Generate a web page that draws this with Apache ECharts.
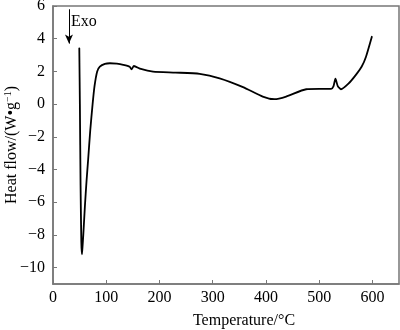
<!DOCTYPE html>
<html>
<head>
<meta charset="utf-8">
<script src="https://cdn.jsdelivr.net/npm/echarts@6/dist/echarts.min.js"></script>
<style>html,body{margin:0;padding:0;background:#fff}#c{width:400px;height:330px}</style>
</head>
<body>
<div id="c"></div>
<script>
const temperature = [49.4, 50.5, 51.8, 53.2, 54.4, 55.5, 56.9, 60, 63, 66, 70, 74.4, 78, 83, 88, 97.5, 107, 120, 132, 144, 147.5, 152, 165, 188, 230, 275.6, 313, 357, 394, 416, 438, 475.6, 500, 522.5, 527, 530.6, 535, 541, 555, 569, 580, 588, 599];
const heatFlow = [3.41, 0.0, -5.0, -8.4, -9.19, -8.7, -8.0, -6.2, -4.7, -3.4, -1.6, 0.0, 1.1, 2.0, 2.29, 2.46, 2.5, 2.47, 2.4, 2.29, 2.13, 2.33, 2.15, 1.99, 1.93, 1.85, 1.58, 1.04, 0.46, 0.30, 0.46, 0.91, 0.93, 0.93, 1.1, 1.56, 1.1, 0.91, 1.25, 1.79, 2.3, 2.9, 4.12];
const xTicks = [0, 100, 200, 300, 400, 500, 600];
const yTicks = [-10, -8, -6, -4, -2, 0, 2, 4, 6];
const xTitle = 'Temperature/°C';
const yTitle = 'Heat flow/(W•g{sup|−1})';
const exoLabel = 'Exo';
const exoArrowTemp = 30;
const exoArrowTop = 5.8;
const exoArrowBottom = 3.7;

const font = 'Liberation Serif, Times New Roman, serif';
const chart = echarts.init(document.getElementById('c'), null, {renderer: 'canvas'});
const fmt = v => String(v).replace('-', '−');
chart.setOption({
  animation: false,
  backgroundColor: '#fff',
  grid: {left: 53, right: 1, top: 6, bottom: 46, show: true, borderColor: '#777', borderWidth: 1.5,
    containLabel: false, outerBoundsMode: 'none'},
  xAxis: {
    type: 'value', min: 0, max: 650,
    name: xTitle, nameLocation: 'middle', nameGap: 29, nameMoveOverlap: false,
    nameTextStyle: {fontFamily: font, fontSize: 16, color: '#000', padding: [0, 0, 0, 36]},
    axisLine: {show: true, onZero: false, lineStyle: {color: '#777', width: 1.5}},
    axisTick: {show: true, inside: true, length: 4, customValues: xTicks, lineStyle: {color: '#777'}},
    axisLabel: {customValues: xTicks, fontFamily: font, fontSize: 16, color: '#000', margin: 6, formatter: fmt},
    splitLine: {show: false}
  },
  yAxis: {
    type: 'value', min: -11, max: 6,
    name: yTitle, nameLocation: 'middle', nameGap: 32, nameRotate: 90, nameMoveOverlap: false,
    nameTextStyle: {fontFamily: font, fontSize: 16, color: '#000',
      rich: {sup: {fontFamily: font, fontSize: 10, color: '#000', verticalAlign: 'top', padding: [0, 0, 8, 0]}}},
    axisLine: {show: true, onZero: false, lineStyle: {color: '#777', width: 1.5}},
    axisTick: {show: true, inside: true, length: 4, customValues: yTicks, lineStyle: {color: '#777'}},
    axisLabel: {customValues: yTicks, fontFamily: font, fontSize: 16, color: '#000', margin: 8, formatter: fmt},
    splitLine: {show: false}
  },
  series: [
    {
      type: 'line', data: temperature.map((t, i) => [t, heatFlow[i]]),
      showSymbol: false, smooth: 0.2,
      lineStyle: {color: '#000', width: 1.8, join: 'round', cap: 'round'},
      markLine: {
        silent: true, symbol: ['none', 'arrow'], symbolSize: [6, 9],
        lineStyle: {color: '#000', width: 1, type: 'solid'},
        label: {show: false},
        data: [[{coord: [exoArrowTemp, exoArrowTop]}, {coord: [exoArrowTemp, exoArrowBottom]}]]
      },
      markPoint: {
        symbol: 'circle', symbolSize: 0, silent: true,
        data: [{coord: [exoArrowTemp, 5.05], value: exoLabel}],
        label: {show: true, formatter: exoLabel, position: 'right', distance: 2, fontFamily: font, fontSize: 16, color: '#000'}
      }
    }
  ]
});
</script>
</body>
</html>
